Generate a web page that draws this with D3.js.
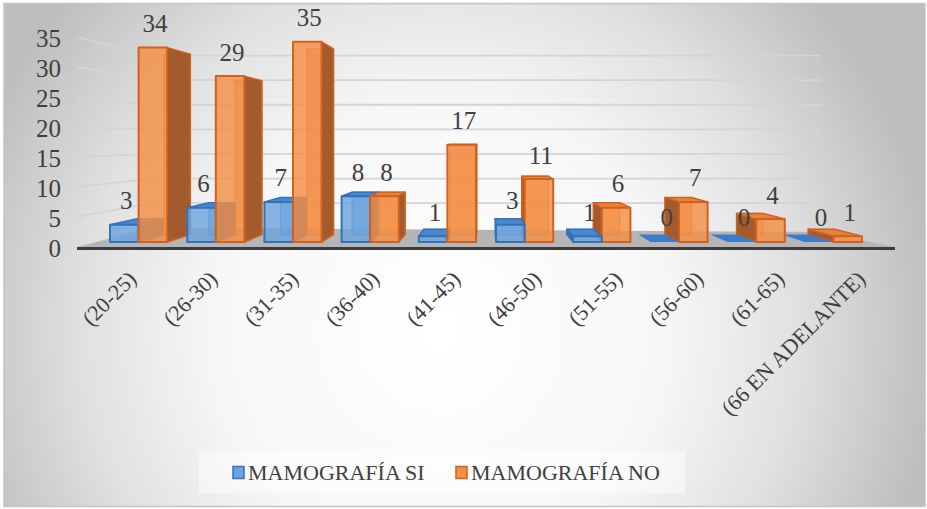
<!DOCTYPE html>
<html>
<head>
<meta charset="utf-8">
<script src="https://cdn.jsdelivr.net/npm/d3@7"></script>
<style>
  html, body { margin: 0; padding: 0; background: #fff; }
  svg text { fill: #404040; font-family: "Liberation Serif", "DejaVu Serif", serif; }
</style>
</head>
<body>
<div id="chart"></div>
<script>
const categories = ["(20-25)", "(26-30)", "(31-35)", "(36-40)", "(41-45)",
                    "(46-50)", "(51-55)", "(56-60)", "(61-65)", "(66 EN ADELANTE)"];
const mamografiaSi = [3, 6, 7, 8, 1, 3, 1, 0, 0, 0];
const mamografiaNo = [34, 29, 35, 8, 17, 11, 6, 7, 4, 1];
const seriesNames = ["MAMOGRAFÍA SI", "MAMOGRAFÍA NO"];
const yTicks = [0, 5, 10, 15, 20, 25, 30, 35];

const W = 927, H = 509;
const FONT = '"Liberation Serif", "DejaVu Serif", serif';

// perspective: vanishing point and depth factors (1 = front plane)
const vp = [486, 140],
      sFront = 0.953, sBack = 0.884, sWall = 0.82;

function proj(X, Y, s) {
  return [vp[0] + (X - vp[0]) * s, vp[1] + (Y - vp[1]) * s];
}
function quad(pts) {
  return 'M' + pts.map(p => p[0].toFixed(1) + ',' + p[1].toFixed(1)).join('L') + 'Z';
}

const colors = {
  "MAMOGRAFÍA SI": { front: '#6ca4dd', stroke: '#2f74bd', side: '#3e6fa6', top: '#4a87cb', flat: '#3b7cc8', back: '#5e97d3' },
  "MAMOGRAFÍA NO": { front: '#f38f46', stroke: '#d1621d', side: '#a35a2c', top: '#e8823b', flat: '#e8823b', back: '#ec8840' }
};

const x = d3.scaleBand().domain(categories).range([81, 891]);
const xSub = d3.scaleBand().domain(seriesNames).range([10.5, 70.5]);
const y = d3.scaleLinear().domain([0, 35]).range([247, 37]);

const floorL = 77, floorR = 895;

const svg = d3.select('#chart').append('svg')
  .attr('width', W).attr('height', H);

const defs = svg.append('defs');
const bg = defs.append('radialGradient')
  .attr('id', 'bg')
  .attr('gradientUnits', 'userSpaceOnUse')
  .attr('cx', 440).attr('cy', 330).attr('r', 500);
bg.append('stop').attr('offset', '0%').attr('stop-color', '#ffffff');
bg.append('stop').attr('offset', '45%').attr('stop-color', '#f7f7f7');
bg.append('stop').attr('offset', '72%').attr('stop-color', '#e0e0e0');
bg.append('stop').attr('offset', '100%').attr('stop-color', '#bdbdbd');

svg.append('rect')
  .attr('x', 4).attr('y', 3.5).attr('width', 921).attr('height', 503)
  .attr('fill', 'url(#bg)')
  .attr('stroke', '#c4c4c4').attr('stroke-width', 1.5);

// gridlines: left side wall and back wall
const grid = svg.append('g')
  .attr('fill', 'none')
  .attr('stroke', '#d4d4d4')
  .attr('stroke-width', 1.8);

yTicks.filter(v => v > 0).forEach(v => {
  let a = proj(floorL, y(v), 1),
      b = proj(floorL, y(v), sWall),
      c = proj(floorR, y(v), sWall);
  grid.append('path').attr('d', 'M' + a + 'L' + b + 'L' + c);
});

// floor
svg.append('path')
  .attr('d', quad([proj(floorL, y(0), 1), proj(floorR, y(0), 1),
                   proj(floorR - 20, y(0), sWall + 0.04), proj(floorL, y(0), sWall)]))
  .attr('fill', '#b5b5b5');

svg.append('path')
  .attr('d', quad([proj(floorL, y(0), 1), proj(floorR, y(0), 1),
                   proj(floorR, y(0) + 3, 1), proj(floorL, y(0) + 3, 1)]))
  .attr('fill', '#3c3c3c');

// bars
let bars = [];
categories.forEach((c, i) => {
  [mamografiaSi[i], mamografiaNo[i]].forEach((v, k) => {
    let name = seriesNames[k],
        xl = x(c) + xSub(name),
        xr = xl + xSub.bandwidth();
    bars.push({ cat: c, name: name, value: v, xl: xl, xr: xr });
  });
});
bars.sort((a, b) => Math.abs((b.xl + b.xr) / 2 - vp[0]) - Math.abs((a.xl + a.xr) / 2 - vp[0]));

const gBars = svg.append('g').attr('stroke-linejoin', 'round');

bars.forEach(d => {
  let col = colors[d.name],
      yt = y(d.value), yb = y(0),
      g = gBars.append('g');

  if (d.value === 0) {
    g.append('path')
      .attr('d', quad([proj(d.xl, yb, sFront), proj(d.xr, yb, sFront),
                       proj(d.xr, yb, sBack), proj(d.xl, yb, sBack)]))
      .attr('fill', col.flat);
    return;
  }

  // back face (seen through the front)
  g.append('path')
    .attr('d', quad([proj(d.xl, yt, sBack), proj(d.xr, yt, sBack),
                     proj(d.xr, yb, sBack), proj(d.xl, yb, sBack)]))
    .attr('fill', col.back).attr('fill-opacity', 0.6)
    .attr('stroke', col.stroke).attr('stroke-width', 1.2).attr('stroke-opacity', 0.7);

  // visible side face
  let sx = d.xr < vp[0] ? d.xr : d.xl;
  g.append('path')
    .attr('d', quad([proj(sx, yt, sFront), proj(sx, yt, sBack),
                     proj(sx, yb, sBack), proj(sx, yb, sFront)]))
    .attr('fill', col.side)
    .attr('stroke', col.stroke).attr('stroke-width', 1.5);

  // top face when it is below eye level
  if (yt > vp[1]) {
    g.append('path')
      .attr('d', quad([proj(d.xl, yt, sFront), proj(d.xr, yt, sFront),
                       proj(d.xr, yt, sBack), proj(d.xl, yt, sBack)]))
      .attr('fill', col.top)
      .attr('stroke', col.stroke).attr('stroke-width', 1.5);
  }

  // front face
  g.append('path')
    .attr('d', quad([proj(d.xl, yt, sFront), proj(d.xr, yt, sFront),
                     proj(d.xr, yb, sFront), proj(d.xl, yb, sFront)]))
    .attr('fill', col.front).attr('fill-opacity', 0.82)
    .attr('stroke', col.stroke).attr('stroke-width', 2);
});

// data labels
svg.append('g')
  .selectAll('text')
  .data(bars)
  .join('text')
  .style('font-family', FONT)
  .attr('x', d => proj((d.xl + d.xr) / 2, 0, sFront)[0] + 2)
  .attr('y', d => proj(0, y(d.value), sFront)[1] - 24)
  .attr('text-anchor', 'middle')
  .attr('dominant-baseline', 'central')
  .attr('font-size', 25)
  .text(d => d.value);

// y axis labels
svg.append('g')
  .selectAll('text')
  .data(yTicks)
  .join('text')
  .style('font-family', FONT)
  .attr('x', 61)
  .attr('y', d => y(d) + 1)
  .attr('text-anchor', 'end')
  .attr('dominant-baseline', 'central')
  .attr('font-size', 25)
  .text(d => d);

// x axis labels
svg.append('g')
  .selectAll('text')
  .data(categories)
  .join('text')
  .style('font-family', FONT)
  .attr('transform', d => 'translate(' + (x(d) + x.bandwidth() / 2 + 11) + ',275) rotate(-45)')
  .attr('text-anchor', 'end')
  .attr('dominant-baseline', 'central')
  .attr('font-size', 22)
  .text(d => d);

// legend
let legend = svg.append('g');
legend.append('rect')
  .attr('x', 199).attr('y', 451).attr('width', 486).attr('height', 42)
  .attr('fill', '#ffffff').attr('fill-opacity', 0.45);

let legendX = [233, 456];
seriesNames.forEach((name, k) => {
  legend.append('rect')
    .attr('x', legendX[k]).attr('y', 466.5).attr('width', 11).attr('height', 12)
    .attr('fill', colors[name].front)
    .attr('stroke', colors[name].stroke).attr('stroke-width', 1.5);
  legend.append('text')
    .style('font-family', FONT)
    .attr('x', legendX[k] + 15).attr('y', 480)
    .attr('font-size', 22)
    .text(name);
});
</script>
</body>
</html>
